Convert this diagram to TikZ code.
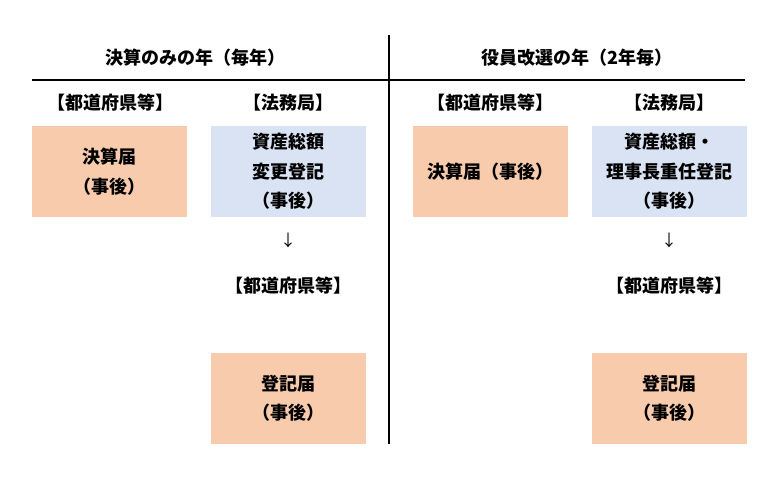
\documentclass[tikz,border=0pt]{standalone}
\usepackage{fontspec}
\setmainfont{Noto Sans CJK JP}
\usetikzlibrary{positioning}
\definecolor{prefOrange}{HTML}{F8CBAD}
\definecolor{bureauBlue}{HTML}{DAE3F3}
\tikzstyle{prefBox} = [rectangle, minimum width=155pt, minimum height=91pt, text centered, align=center, fill=prefOrange, inner sep=0pt]
\tikzstyle{bureauBox} = [rectangle, minimum width=155pt, minimum height=91pt, text centered, align=center, fill=bureauBlue, inner sep=0pt]
\tikzstyle{label} = [text centered, inner sep=0pt]
\tikzstyle{rule} = [line width=2.5pt, black]

\begin{document}
\begin{tikzpicture}[x=1pt, y=-1pt, font=\fontsize{18pt}{29.5pt}\selectfont\bfseries]
\useasboundingbox (0,0) rectangle (778,477);

% Column headings
\node[label] (titleL) at (195,58) {決算のみの年（毎年）};
\node[label] (titleR) at (577,58) {役員改選の年（2年毎）};

% Left half - every year
\node[label] (prefL) at (110,103) {【都道府県等】};
\node[label] (bureauL) at (288,103) {【法務局】};
\node (settleL) [prefBox] at (109.5,171.5) {決算届\\（事後）};
\node (assetL) [bureauBox] at (288,171.5) {資産総額\\変更登記\\（事後）};
\node[label, font=\fontsize{16pt}{18pt}\selectfont] (downL) at (288,240) {↓};
\node[label] (prefL2) [below=29pt of downL] {【都道府県等】};
\node (regL) [prefBox] at (288,398.5) {登記届\\（事後）};

% Right half - election year
\node[label] (prefR) at (490,103) {【都道府県等】};
\node[label] (bureauR) at (669,103) {【法務局】};
\node (settleR) [prefBox] at (490.5,171.5) {決算届（事後）};
\node (assetR) [bureauBox] at (669,171.5) {資産総額・\\理事長重任登記\\（事後）};
\node[label, font=\fontsize{16pt}{18pt}\selectfont] (downR) at (669,240) {↓};
\node[label] (prefR2) [below=29pt of downR] {【都道府県等】};
\node (regR) [prefBox] at (669,398.5) {登記届\\（事後）};

% Rules
\coordinate (ruleW) at (32,80);
\coordinate (ruleE) at (745,80);
\coordinate (ruleN) at (389,35);
\coordinate (ruleS) at (389,444);
\draw [rule] (ruleW) -- (ruleE);
\draw [rule] (ruleN) -- (ruleS);

\end{tikzpicture}
\end{document}
